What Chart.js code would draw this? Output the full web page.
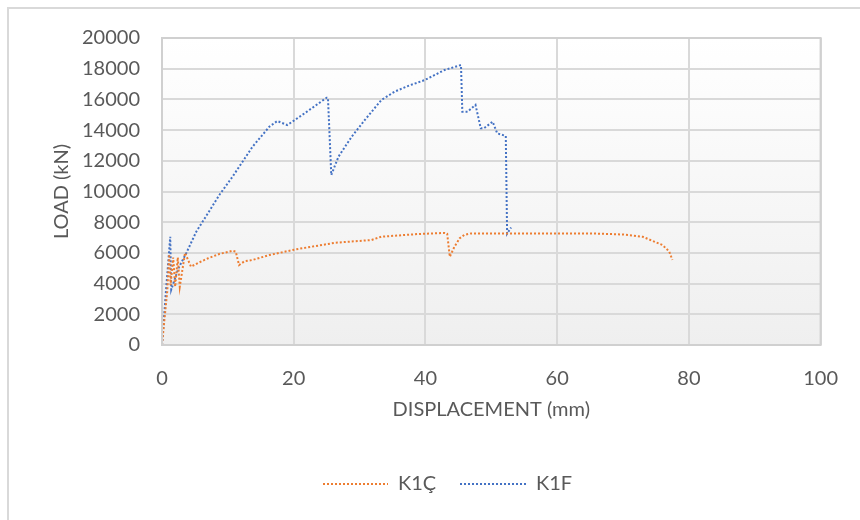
<!DOCTYPE html>
<html>
<head>
<meta charset="utf-8">
<script src="https://cdn.jsdelivr.net/npm/chart.js@4"></script>
<style>
  html, body { margin: 0; padding: 0; background: #ffffff; }
  #wrap { width: 860px; height: 520px; position: relative; }
</style>
</head>
<body>
<div id="wrap"><canvas id="loadChart" width="860" height="520"></canvas></div>
<script>
// Data (displacement in mm, load in kN)
const k1cX = [0, 0.4, 0.8, 1.1, 1.3, 1.7, 2.0, 2.4, 2.7, 3.5, 4.4, 5.5, 7, 8.7, 10.7, 11.2, 11.7, 12.5, 13.75, 16.3, 20.3, 26.3, 31.8, 33.3, 38.9, 42.9, 43.3, 43.7, 44.4, 45.2, 45.9, 46.9, 55, 65, 70, 73, 76, 77, 77.5];
const k1cY = [0, 1800, 3500, 5900, 3900, 5700, 3800, 5700, 3800, 6000, 5100, 5350, 5650, 5930, 6140, 6080, 5210, 5450, 5540, 5860, 6230, 6660, 6840, 7055, 7230, 7300, 7250, 5750, 6400, 6950, 7170, 7270, 7270, 7270, 7200, 7050, 6510, 6100, 5540];

const k1fX = [0, 0.6, 1.25, 1.4, 2.5, 3.7, 5.2, 7, 8.7, 10.7, 13.75, 16.3, 17.5, 19.0, 19.8, 22, 25.0, 25.2, 25.7, 26.3, 26.8, 28.8, 30.8, 33.3, 35.3, 37.5, 39.9, 42.9, 45.4, 45.6, 46.4, 47.6, 48.4, 48.9, 50.2, 50.9, 52.2, 52.4, 53.0];
const k1fY = [0, 3500, 7050, 3600, 5000, 6000, 7380, 8600, 9770, 10960, 12920, 14220, 14590, 14330, 14550, 15200, 16110, 16100, 11075, 11730, 12270, 13570, 14660, 15960, 16500, 16900, 17260, 17915, 18240, 15200, 15200, 15640, 14120, 14120, 14550, 13790, 13620, 7250, 7650];

const seriesNames = ['K1Ç', 'K1F'];
const seriesColors = ['#ED7D31', '#4472C4'];
const xTicks = [0, 20, 40, 60, 80, 100];
const yTicks = [0, 2000, 4000, 6000, 8000, 10000, 12000, 14000, 16000, 18000, 20000];

const FONT = 'Lato, "Open Sans", sans-serif';
const TEXT = '#595959';
const DOTS = [2, 2];

function toPoints(xs, ys) {
    return xs.map((x, i) => ({ x: x, y: ys[i] }));
}

// plot area gradient + outer frame
const backdrop = {
    id: 'backdrop',
    beforeDraw(chart) {
        const { ctx, chartArea: a } = chart;
        ctx.save();
        const g = ctx.createLinearGradient(0, a.top, 0, a.bottom);
        g.addColorStop(0, '#ffffff');
        g.addColorStop(1, '#efefef');
        ctx.fillStyle = g;
        ctx.fillRect(a.left, a.top, a.right - a.left, a.bottom - a.top);
        ctx.strokeStyle = '#d9d9d9';
        ctx.lineWidth = 2;
        ctx.beginPath();
        ctx.moveTo(8, 520);
        ctx.lineTo(8, 8);
        ctx.lineTo(860, 8);
        ctx.stroke();
        ctx.restore();
    },
    afterDraw(chart) {
        const { ctx, chartArea: a } = chart;
        ctx.save();
        ctx.strokeStyle = '#d0d0d0';
        ctx.lineWidth = 2;
        ctx.strokeRect(a.left, a.top, a.right - a.left, a.bottom - a.top);
        ctx.restore();
    }
};

// dotted legend at the bottom
const dotLegend = {
    id: 'dotLegend',
    afterDraw(chart) {
        const { ctx } = chart;
        const items = [
            { x0: 323, x1: 388, tx: 398 },
            { x0: 460, x1: 527, tx: 536 }
        ];
        ctx.save();
        items.forEach((it, i) => {
            ctx.strokeStyle = seriesColors[i];
            ctx.lineWidth = 2;
            ctx.setLineDash(DOTS);
            ctx.beginPath();
            ctx.moveTo(it.x0, 484);
            ctx.lineTo(it.x1, 484);
            ctx.stroke();
            ctx.setLineDash([]);
            ctx.fillStyle = TEXT;
            ctx.font = '20px ' + FONT;
            ctx.textBaseline = 'middle';
            ctx.fillText(seriesNames[i], it.tx, 484);
        });
        ctx.restore();
    }
};

const ctx = document.getElementById('loadChart').getContext('2d');
new Chart(ctx, {
    type: 'scatter',
    data: {
        datasets: [
            {
                label: seriesNames[0],
                data: toPoints(k1cX, k1cY),
                showLine: true,
                borderColor: seriesColors[0],
                borderWidth: 2,
                borderDash: DOTS,
                pointRadius: 0,
                tension: 0
            },
            {
                label: seriesNames[1],
                data: toPoints(k1fX, k1fY),
                showLine: true,
                borderColor: seriesColors[1],
                borderWidth: 2,
                borderDash: DOTS,
                pointRadius: 0,
                tension: 0
            }
        ]
    },
    options: {
        responsive: false,
        animation: false,
        layout: { padding: { top: 38, right: 34, left: 0, bottom: 0 } },
        plugins: {
            legend: { display: false },
            tooltip: { enabled: false }
        },
        scales: {
            x: {
                type: 'linear',
                min: 0,
                max: 100,
                afterBuildTicks(scale) { scale.ticks = xTicks.map(v => ({ value: v })); },
                afterFit(scale) { scale.height = 175; },
                grid: { color: '#d9d9d9', lineWidth: 2, drawTicks: false },
                border: { display: false },
                ticks: { color: TEXT, font: { family: FONT, size: 20 }, padding: 22 },
                title: {
                    display: true,
                    text: 'DISPLACEMENT (mm)',
                    color: TEXT,
                    font: { family: FONT, size: 20 },
                    padding: { top: 0, bottom: 98 }
                }
            },
            y: {
                type: 'linear',
                min: 0,
                max: 20000,
                afterBuildTicks(scale) { scale.ticks = yTicks.map(v => ({ value: v })); },
                afterFit(scale) { scale.width = 162; },
                grid: { color: '#d9d9d9', lineWidth: 2, drawTicks: false },
                border: { display: false },
                ticks: {
                    color: TEXT,
                    font: { family: FONT, size: 20 },
                    padding: 22,
                    callback: v => String(v)
                },
                title: {
                    display: true,
                    text: 'LOAD (kN)',
                    color: TEXT,
                    font: { family: FONT, size: 20 },
                    padding: { top: 50, bottom: 0 }
                }
            }
        }
    },
    plugins: [backdrop, dotLegend]
});
</script>
</body>
</html>
